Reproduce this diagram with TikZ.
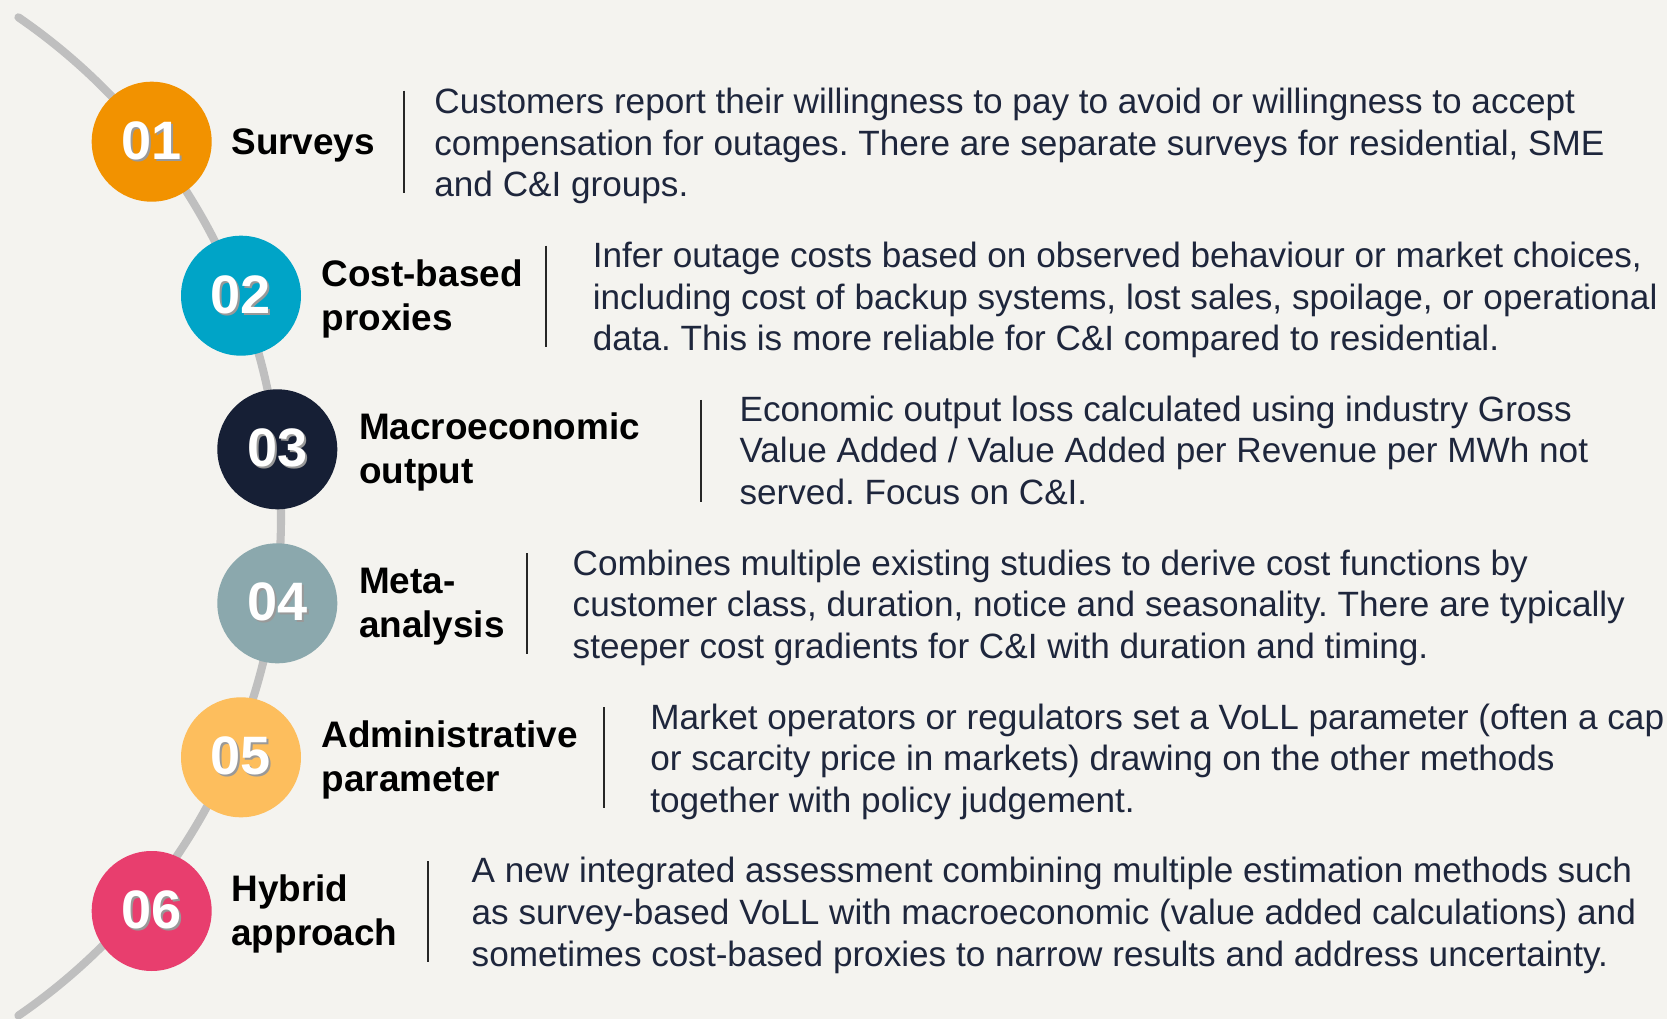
\documentclass[tikz,border=0pt]{standalone}
\usepackage{fontspec}
\setmainfont{Liberation Sans}
\usepackage{tikz}
\frenchspacing

\definecolor{paper}{RGB}{244,243,239}
\definecolor{track}{RGB}{191,191,191}
\definecolor{inkblue}{RGB}{30,38,60}
\definecolor{stepA}{RGB}{242,146,0}
\definecolor{stepB}{RGB}{0,164,199}
\definecolor{stepC}{RGB}{22,31,53}
\definecolor{stepD}{RGB}{139,168,173}
\definecolor{stepE}{RGB}{253,190,93}
\definecolor{stepF}{RGB}{232,62,110}

% white number with a small drop shadow under it
\newcommand{\dropnum}[1]{\rlap{\kern0.55pt\raisebox{-0.55pt}{\color{black!40}#1}}#1}

\begin{document}
\begin{tikzpicture}[
  numdot/.style={circle,minimum size=1.2cm,inner sep=0pt,text=white,
                 font=\fontsize{15.4}{16}\selectfont\bfseries},
  heading/.style={anchor=west,inner sep=0pt,align=left,yshift=-1.1pt,
                  font=\fontsize{10.5}{12.5}\selectfont\bfseries},
  blurb/.style={anchor=west,inner sep=0pt,align=left,text=inkblue,yshift=-1.2pt,
                font=\fontsize{10}{11.84}\selectfont},
  divider/.style={line width=0.6pt,black!85}
]
\fill[paper] (0,0) rectangle (16.67,-10.19);
\useasboundingbox (0,0) rectangle (16.67,-10.19);
% curved track behind the numbered discs
\draw[track,line width=2.3pt,line cap=round] (0.184,-0.173)
      arc[start angle=55.5,end angle=-55.5,radius=6.057];

% 01
\node[numdot,fill=stepA] (n1) at (1.517,-1.417) {\dropnum{01}};
\node[heading] (h1) at (2.307,-1.417) {\strut Surveys\strut};
\draw[divider] (4.043,-0.907) -- (4.043,-1.927);
\node[blurb] (d1) at (4.337,-1.427) {\strut Customers report their willingness to pay to avoid or willingness to accept\\
  compensation for outages. There are separate surveys for residential, SME\\
  and C\&I groups.\strut};

% 02
\node[numdot,fill=stepB] (n2) at (2.41,-2.957) {\dropnum{02}};
\node[heading] (h2) at (3.21,-2.957) {\strut Cost-based\\proxies\strut};
\draw[divider] (5.464,-2.457) -- (5.464,-3.467);
\node[blurb] (d2) at (5.921,-2.967) {\strut Infer outage costs based on observed behaviour or market choices,\\
  including cost of backup systems, lost sales, spoilage, or operational\\
  data. This is more reliable for C\&I compared to residential.\strut};

% 03
\node[numdot,fill=stepC] (n3) at (2.773,-4.493) {\dropnum{03}};
\node[heading] (h3) at (3.583,-4.493) {\strut Macroeconomic\\output\strut};
\draw[divider] (7.006,-3.998) -- (7.006,-5.018);
\node[blurb] (d3) at (7.389,-4.503) {\strut Economic output loss calculated using industry Gross\\
  Value Added / Value Added per Revenue per MWh not\\
  served. Focus on C\&I.\strut};

% 04
\node[numdot,fill=stepD] (n4) at (2.773,-6.033) {\dropnum{04}};
\node[heading] (h4) at (3.583,-6.033) {\strut Meta-\\analysis\strut};
\draw[divider] (5.273,-5.533) -- (5.273,-6.543);
\node[blurb] (d4) at (5.72,-6.043) {\strut Combines multiple existing studies to derive cost functions by\\
  customer class, duration, notice and seasonality. There are typically\\
  steeper cost gradients for C\&I with duration and timing.\strut};

% 05
\node[numdot,fill=stepE] (n5) at (2.41,-7.573) {\dropnum{05}};
\node[heading] (h5) at (3.21,-7.573) {\strut Administrative\\parameter\strut};
\draw[divider] (6.038,-7.07) -- (6.038,-8.08);
\node[blurb] (d5) at (6.496,-7.583) {\strut Market operators or regulators set a VoLL parameter (often a cap\\
  or scarcity price in markets) drawing on the other methods\\
  together with policy judgement.\strut};

% 06
\node[numdot,fill=stepF] (n6) at (1.517,-9.11) {\dropnum{06}};
\node[heading] (h6) at (2.307,-9.11) {\strut Hybrid\\approach\strut};
\draw[divider] (4.284,-8.61) -- (4.284,-9.62);
\node[blurb] (d6) at (4.71,-9.12) {\strut A new integrated assessment combining multiple estimation methods such\\
  as survey-based VoLL with macroeconomic (value added calculations) and\\
  sometimes cost-based proxies to narrow results and address uncertainty.\strut};
\end{tikzpicture}
\end{document}
